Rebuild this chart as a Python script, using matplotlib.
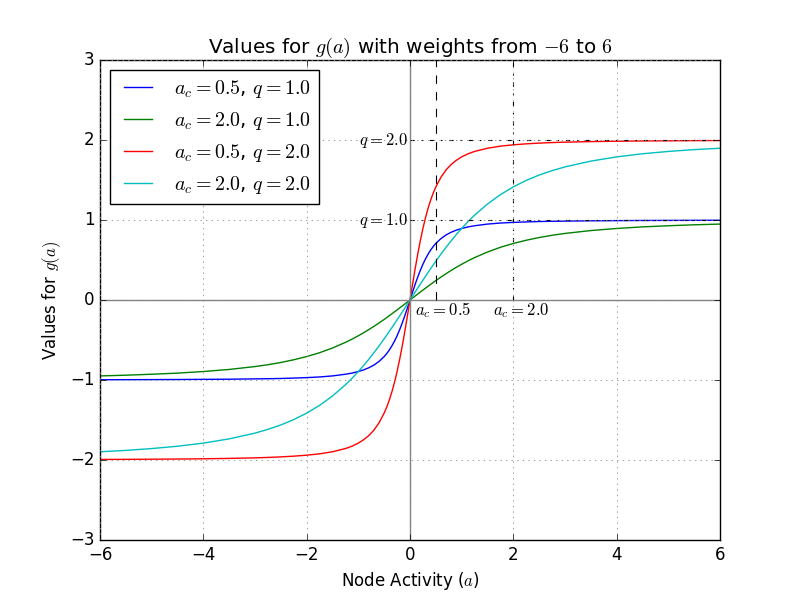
import matplotlib
matplotlib.use('Agg')
import matplotlib.pyplot as plt

plt.style.use('classic')
plt.rcParams['mathtext.fontset'] = 'cm'

# Werte
x = [-6.0, -5.5, -5.0, -4.5, -4.0, -3.5, -3.0, -2.75, -2.5, -2.25, -2.0, -1.75, -1.5, -1.25, -1.125, -1.0, -0.9, -0.8, -0.7, -0.6,
     -0.5, -0.45, -0.4, -0.35, -0.3, -0.25, -0.2, -0.15, -0.1, -0.05,
     0.0,
     0.05, 0.1, 0.15, 0.2, 0.25, 0.3, 0.35, 0.4, 0.45, 0.5,
     0.6, 0.7, 0.8, 0.9, 1.0, 1.125, 1.25, 1.5, 1.75, 2.0, 2.25, 2.5, 2.75, 3.0, 3.5, 4.0, 4.5, 5.0, 5.5, 6.0]

g_05_1 = [-0.997, -0.996, -0.995, -0.994, -0.992, -0.990, -0.986, -0.984, -0.981, -0.976, -0.970, -0.962, -0.949, -0.928, -0.914, -0.894, -0.874, -0.848, -0.814, -0.768,
          -0.707, -0.669, -0.625, -0.573, -0.514, -0.447, -0.371, -0.287, -0.196, -0.0995,
          0.0,
          0.0995, 0.196, 0.287, 0.371, 0.447, 0.514, 0.573, 0.625, 0.669, 0.707,
          0.768, 0.814, 0.848, 0.874, 0.894, 0.914, 0.928, 0.949, 0.962, 0.970, 0.976, 0.981, 0.984, 0.986, 0.990, 0.992, 0.994, 0.995, 0.996, 0.997]
g_20_1 = [-0.949, -0.940, -0.928, -0.914, -0.894, -0.868, -0.832, -0.809, -0.781, -0.747, -0.707, -0.659, -0.600, -0.530, -0.490, -0.447, -0.410, -0.371, -0.330, -0.287,
          -0.243, -0.2195, -0.196, -0.172, -0.148, -0.124, -0.0995, -0.075, -0.050, -0.025,
          0.0,
          0.025, 0.050, 0.075, 0.0995, 0.124, 0.148, 0.172, 0.196, 0.2195, 0.243,
          0.287, 0.330, 0.371, 0.410, 0.447, 0.490, 0.530, 0.600, 0.659, 0.707, 0.747, 0.781, 0.809, 0.832, 0.868, 0.894, 0.914, 0.928, 0.940, 0.949]
g_05_2 = [-1.993, -1.992, -1.990, -1.988, -1.985, -1.980, -1.973, -1.968, -1.961, -1.952, -1.940, -1.923, -1.897, -1.857, -1.828, -1.789, -1.748, -1.696, -1.628, -1.536,
          -1.414, -1.338, -1.249, -1.147, -1.029, -0.894, -0.742, -0.574, -0.392, -0.199,
          0.0,
          0.199, 0.392, 0.574, 0.742, 0.894, 1.029, 1.147, 1.249, 1.338, 1.414,
          1.536, 1.628, 1.696, 1.748, 1.789, 1.828, 1.857, 1.897, 1.923, 1.940, 1.952, 1.961, 1.968, 1.973, 1.980, 1.985, 1.988, 1.990, 1.992, 1.993]
g_20_2 = [-1.897, -1.880, -1.857, -1.828, -1.789, -1.736, -1.664, -1.617, -1.562, -1.495, -1.414, -1.317, -1.200, -1.060, -0.981, -0.894, -0.821, -0.743, -0.660, -0.575,
          -0.485, -0.439, -0.392, -0.345, -0.296, -0.248, -0.199, -0.150, -0.100, -0.050,
          0.0,
          0.050, 0.100, 0.150, 0.199, 0.248, 0.296, 0.345, 0.392, 0.439, 0.485,
          0.575, 0.660, 0.743, 0.821, 0.894, 0.981, 1.060, 1.200, 1.317, 1.414, 1.495, 1.562, 1.617, 1.664, 1.736, 1.789, 1.828, 1.857, 1.880, 1.897]

labels = ['$a_c=0.5$, $q=1.0$', '$a_c=2.0$, $q=1.0$', '$a_c=0.5$, $q=2.0$', '$a_c=2.0$, $q=2.0$']
colors = ['b', 'g', 'r', 'c']

ac_values = [0.5, 2.0]
ac_styles = ['--', '-.']
q_values = [1.0, 2.0]

fig, ax = plt.subplots(figsize=(8, 6), dpi=100)

for y, lab, c in zip([g_05_1, g_20_1, g_05_2, g_20_2], labels, colors):
    ax.plot(x, y, color=c, label=lab)

ax.axhline(0, color='gray', lw=1)
ax.axvline(0, color='gray', lw=1)

# Hilfslinien fuer a_c und q
for ac, ls in zip(ac_values, ac_styles):
    ax.axvline(ac, ymin=0.5, ymax=1.0, color='k', ls=ls, lw=0.8)
    ax.text(ac - 0.4, -0.13, '$a_c=%.1f$' % ac, ha='left', va='center', fontsize=12)
for q in q_values:
    ax.axhline(q, xmin=0.5, xmax=1.0, color='k', ls='-.', lw=0.8)
    ax.text(-0.05, q, '$q=%.1f$' % q, ha='right', va='center', fontsize=12)

ax.set_xlim(-6, 6)
ax.set_ylim(-3, 3)
ax.set_xticks(range(-6, 7, 2))
ax.set_yticks(range(-3, 4))
ax.grid(True, color='0.55', ls=':', lw=0.6)
ax.set_title('Values for $g(a)$ with weights from $-6$ to $6$')
ax.set_xlabel('Node Activity ($a$)')
ax.set_ylabel('Values for $g(a)$')
ax.legend(loc='upper left')

fig.savefig('out.png', dpi=100)
